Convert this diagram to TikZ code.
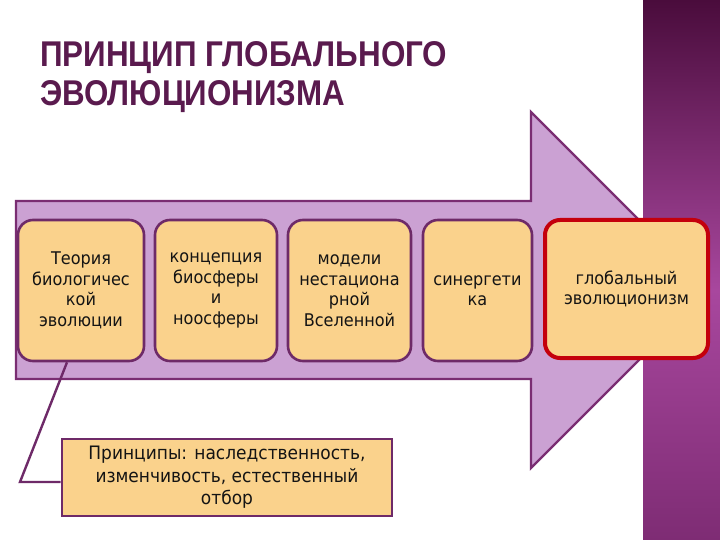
\documentclass[tikz,border=0pt]{standalone}
\usepackage{fontspec}
\setmainfont{DejaVu Sans}[FakeStretch=0.92]
\newfontfamily\titlefont{Liberation Sans}
\usepackage{graphicx}
\definecolor{arrowfill}{HTML}{CBA1D3}
\definecolor{arrowline}{HTML}{7A2D72}
\definecolor{boxfill}{HTML}{FAD28C}
\definecolor{boxline}{HTML}{6E2A68}
\definecolor{redline}{HTML}{C4000C}
\definecolor{titlecol}{HTML}{5A1A4E}
\definecolor{bandtop}{HTML}{4A0C3C}
\definecolor{bandmid}{HTML}{A8479E}
\definecolor{bandbot}{HTML}{7E2C74}
\definecolor{txt}{HTML}{141414}
\tikzset{
  arrowshape/.style={fill=arrowfill, draw=arrowline, line width=2.4pt, line join=miter},
  stagebox/.style={draw=boxline, fill=boxfill, line width=2.6pt, rounded corners=15pt,
     minimum height=141pt, inner sep=0pt, align=center, text=txt,
     font=\fontsize{17.5}{20.5}\selectfont},
  finalbox/.style={stagebox, draw=redline, line width=4pt},
  notebox/.style={draw=boxline, fill=boxfill, line width=2.6pt, inner sep=0pt,
     minimum width=330pt, minimum height=77pt, align=center, text=txt,
     font=\fontsize{18.5}{22.5}\selectfont},
  callout/.style={draw=boxline, line width=2.4pt, line join=miter},
  titletext/.style={anchor=base west, inner sep=0pt, text=titlecol, font=\titlefont\bfseries}
}
\begin{document}
\begin{tikzpicture}[x=1pt,y=-1pt]
\useasboundingbox (0,0) rectangle (720,540);
\fill[white] (0,0) rectangle (720,540);
% title
\node[titletext] (t1) at (40,67) {\resizebox{407pt}{25pt}{ПРИНЦИП ГЛОБАЛЬНОГО}};
\node[titletext] (t2) at (40,106) {\resizebox{305pt}{25pt}{ЭВОЛЮЦИОНИЗМА}};
% big arrow
\draw[arrowshape] (16,201) -- (531,201) -- (531,112) -- (709,290) -- (531,468) -- (531,379) -- (16,379) -- cycle;
% right band
\shade[top color=bandtop, bottom color=bandmid] (643,0) rectangle (720,290);
\shade[top color=bandmid, bottom color=bandbot] (643,290) rectangle (720,540);
% stage boxes
\node[stagebox, minimum width=126pt] (b1) at (81,290.5) {Теория\\биологичес\\кой\\эволюции};
\node[stagebox, minimum width=122pt] (b2) at (216,290.5) {концепция\\биосферы\\и\\ноосферы};
\node[stagebox, minimum width=123pt] (b3) at (349.5,290.5) {модели\\нестациона\\рной\\Вселенной};
\node[stagebox, minimum width=109pt] (b4) at (477.5,290.5) {синергети\\ка};
\node[finalbox, minimum width=163pt, minimum height=138pt] (b5) at (626.5,289) {глобальный\\эволюционизм};
% note box and callout
\node[notebox] (pb) at (227,477.5) {Принципы: наследственность,\\изменчивость, естественный\\отбор};
\coordinate (bend) at (20,482);
\draw[callout] ([xshift=-14pt]b1.south) -- (bend) -- ([yshift=-4.5pt]pb.west);
\end{tikzpicture}
\end{document}
